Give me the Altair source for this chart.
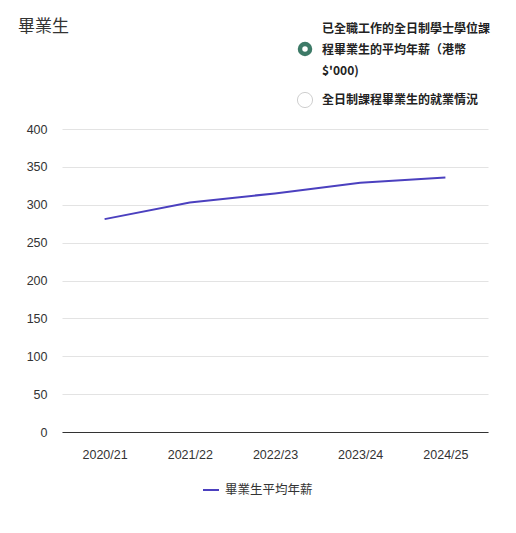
import altair as alt
import pandas as pd

years = ["2020/21", "2021/22", "2022/23", "2023/24", "2024/25"]
salary = [281, 303, 315, 329, 336]
series_name = "畢業生平均年薪"
title_text = "畢業生"
radio_lines_1 = ["已全職工作的全日制學士學位課", "程畢業生的平均年薪（港幣", "$'000)"]
radio_line_2 = "全日制課程畢業生的就業情況"

FONT = "Liberation Sans, Noto Sans CJK TC"
CJK = "Noto Sans CJK TC, Liberation Sans"

df = pd.DataFrame({"year": years, "salary": salary, "series": series_name})

W, H = 426, 303

line = alt.Chart(df).mark_line(strokeWidth=2).encode(
    x=alt.X("year:N", sort=years, title=None,
            scale=alt.Scale(type="point", padding=0.5),
            axis=alt.Axis(labelAngle=0, ticks=False, domainColor="#333",
                          labelColor="#333", labelFontSize=12.5, labelPadding=16,
                          labelFont=FONT, grid=False)),
    y=alt.Y("salary:Q", title=None,
            scale=alt.Scale(domain=[0, 400]),
            axis=alt.Axis(values=list(range(0, 401, 50)), ticks=False, domain=False,
                          gridColor="#e3e3e3", labelColor="#333", labelFontSize=12.5,
                          labelPadding=15, labelFont=FONT)),
    color=alt.Color("series:N", scale=alt.Scale(range=["#4b40bf"]),
                    legend=alt.Legend(title=None, orient="none", legendX=140, legendY=352,
                                      symbolType="stroke", symbolSize=256,
                                      symbolStrokeWidth=2, labelFontSize=12.5,
                                      labelColor="#333", labelFont=CJK, padding=0,
                                      labelOffset=5)),
)

title = alt.Chart(pd.DataFrame({"t": [title_text]})).mark_text(
    align="left", baseline="middle", fontSize=17, font=CJK, color="#333"
).encode(x=alt.value(-44), y=alt.value(-102), text="t:N")

radio_df = pd.DataFrame({
    "t": radio_lines_1 + [radio_line_2],
    "row": [0, 1, 2, 3],
})
radio_y = {0: -100, 1: -79, 2: -58, 3: -29}
radio_text = alt.layer(*[
    alt.Chart(radio_df[radio_df.row == r]).mark_text(
        align="left", baseline="middle", fontSize=12, fontWeight="bold",
        font=CJK, color="#222"
    ).encode(x=alt.value(260), y=alt.value(radio_y[r]), text="t:N")
    for r in range(4)
])

dot_df = pd.DataFrame({"k": [1]})
radio_on = alt.Chart(dot_df).mark_point(shape="circle", filled=True, color="#3d7a67",
                                         size=210, opacity=1).encode(
    x=alt.value(243), y=alt.value(-80))
radio_on_inner = alt.Chart(dot_df).mark_point(shape="circle", filled=True, color="white",
                                               size=30, opacity=1).encode(
    x=alt.value(243), y=alt.value(-80))
radio_off = alt.Chart(dot_df).mark_point(shape="circle", filled=True, fill="white",
                                          stroke="#cfcfcf", strokeWidth=1, size=230,
                                          opacity=1).encode(
    x=alt.value(243), y=alt.value(-29))

chart = alt.layer(line, title, radio_text, radio_on, radio_on_inner, radio_off).properties(
    width=W, height=H,
    autosize=alt.AutoSizeParams(type="none"),
    padding={"left": 54, "top": 121, "right": 18, "bottom": 95},
    background="white",
).configure_view(stroke=None)

chart.save("out.html", embed_options={"renderer": "svg", "actions": False})
